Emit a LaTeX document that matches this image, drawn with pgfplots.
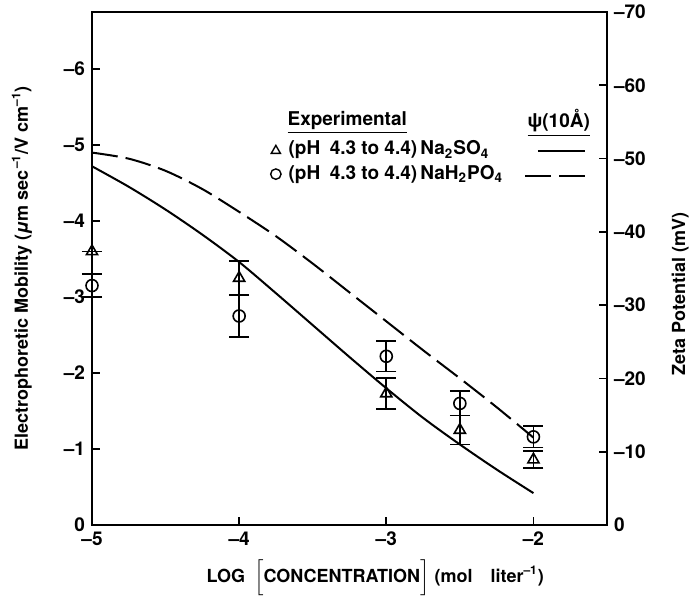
\documentclass[border=0pt]{standalone}
\usepackage{fontspec}
\setmainfont{TeX Gyre Heros}
\usepackage{pgfplots}
\pgfplotsset{compat=1.18}
\usepackage{pgfplotstable}

% Na2SO4 (triangles): log c, mobility, error
\pgfplotstableread{
x y e
-5 -3.60 0
-4 -3.25 0.22
-3 -1.73 0.20
-2.5 -1.25 0.19
-2 -0.86 0.11
}\sulfate
% NaH2PO4 (circles)
\pgfplotstableread{
x y e
-5 -3.15 0.15
-4 -2.75 0.28
-3 -2.22 0.20
-2.5 -1.60 0.16
-2 -1.16 0.14
}\phosphate
% psi(10 A) curves
\pgfplotstableread{
x y
-5 -4.72
-4.75 -4.45
-4.5 -4.15
-4.25 -3.82
-4 -3.46
-3.75 -3.05
-3.5 -2.63
-3.25 -2.21
-3 -1.80
-2.75 -1.41
-2.5 -1.06
-2.25 -0.73
-2 -0.42
}\sulfcurve
\pgfplotstableread{
x y
-5 -4.90
-4.75 -4.82
-4.5 -4.66
-4.25 -4.42
-4 -4.12
-3.75 -3.80
-3.5 -3.44
-3.25 -3.06
-3 -2.68
-2.75 -2.30
-2.5 -1.93
-2.25 -1.55
-2 -1.15
}\phoscurve

\pgfplotsset{
  common/.style={
    scale only axis, width=257.5pt, height=256.5pt,
    xmin=-5, xmax=-1.5,
    tick align=inside, major tick length=4pt,
    tick style={line width=0.9pt, black},
    axis line style={line width=1pt},
    tick label style={font=\fontsize{9.5}{10}\selectfont\bfseries},
    label style={font=\fontsize{9}{11}\selectfont\bfseries},
    clip=false,
  }
}

\begin{document}
\begin{tikzpicture}
\begin{axis}[common, name=main,
  y dir=reverse, ymin=-6.75, ymax=0,
  xtick={-5,-4,-3,-2}, xticklabels={\textendash5,\textendash4,\textendash3,\textendash2},
  ytick={0,-1,-2,-3,-4,-5,-6},
  yticklabels={0,\textendash1,\textendash2,\textendash3,\textendash4,\textendash5,\textendash6},
  xtick pos=bottom, ytick pos=left,
  ylabel={Electrophoretic Mobility (\textit{μ}m sec\textsuperscript{\,\textendash1}/V cm\textsuperscript{\textendash1})},
  ylabel style={at={(axis description cs:-0.136,0.5)}, anchor=center},
  xlabel={LOG\enspace$\Bigl[$CONCENTRATION$\Bigr]$ (mol\quad liter\textsuperscript{\textendash1})},
  xlabel style={at={(axis description cs:0.55,-0.103)}, anchor=center},
]
\addplot[black, line width=1pt, smooth] table[x=x, y=y] {\sulfcurve};
\addplot[black, line width=1pt, smooth, dash pattern=on 13pt off 4pt] table[x=x, y=y] {\phoscurve};
\addplot[black, line width=0.8pt, only marks, mark=triangle, mark size=3.2pt,
  error bars/.cd, y dir=both, y explicit,
  error mark options={rotate=90, mark size=5pt, line width=0.9pt},
  error bar style={line width=0.9pt}]
  table[x=x, y=y, y error=e] {\sulfate};
\addplot[black, line width=0.8pt, only marks, mark=o, mark size=3pt,
  mark options={fill=white},
  error bars/.cd, y dir=both, y explicit,
  error mark options={rotate=90, mark size=5pt, line width=0.9pt},
  error bar style={line width=0.9pt}]
  table[x=x, y=y, y error=e] {\phosphate};

% legend
\begin{scope}[font=\fontsize{9.5}{10}\selectfont\bfseries]
\node[anchor=west, inner sep=0pt] at (rel axis cs:0.379,0.784) {\underline{Experimental}};
\node[anchor=west, inner sep=0pt] at (rel axis cs:0.845,0.784) {\underline{ψ(10Å)}};
\node[anchor=west, inner sep=0pt] at (rel axis cs:0.381,0.731) {(pH\enspace4.3 to 4.4)\,Na\textsubscript{2}SO\textsubscript{4}};
\node[anchor=west, inner sep=0pt] at (rel axis cs:0.381,0.684) {(pH\enspace4.3 to 4.4)\,NaH\textsubscript{2}PO\textsubscript{4}};
\draw[line width=0.7pt] ([xshift=-2.3pt,yshift=-1.7pt]rel axis cs:0.357,0.731) -- ([xshift=2.3pt,yshift=-1.7pt]rel axis cs:0.357,0.731) -- ([yshift=2.3pt]rel axis cs:0.357,0.731) -- cycle;
\draw[line width=0.7pt] (rel axis cs:0.357,0.684) circle[radius=2.6pt];
\draw[line width=1pt] (rel axis cs:0.866,0.729) -- (rel axis cs:0.957,0.729);
\draw[line width=1pt, dash pattern=on 13pt off 4pt] (rel axis cs:0.841,0.680) -- (rel axis cs:0.970,0.680);
\end{scope}
\end{axis}

\begin{axis}[common,
  axis x line=none, axis y line*=right,
  y dir=reverse, ymin=-70, ymax=0,
  ytick={0,-10,-20,-30,-40,-50,-60,-70},
  yticklabels={0,\textendash10,\textendash20,\textendash30,\textendash40,\textendash50,\textendash60,\textendash70},
  ylabel={Zeta Potential (mV)},
  ylabel style={at={(axis description cs:1.142,0.45)}, anchor=center},
]
\end{axis}

\pgfresetboundingbox
\path[use as bounding box] ([xshift=-46pt,yshift=-37pt]main.south west) rectangle ([xshift=42.5pt,yshift=6pt]main.north east);
\end{tikzpicture}
\end{document}
